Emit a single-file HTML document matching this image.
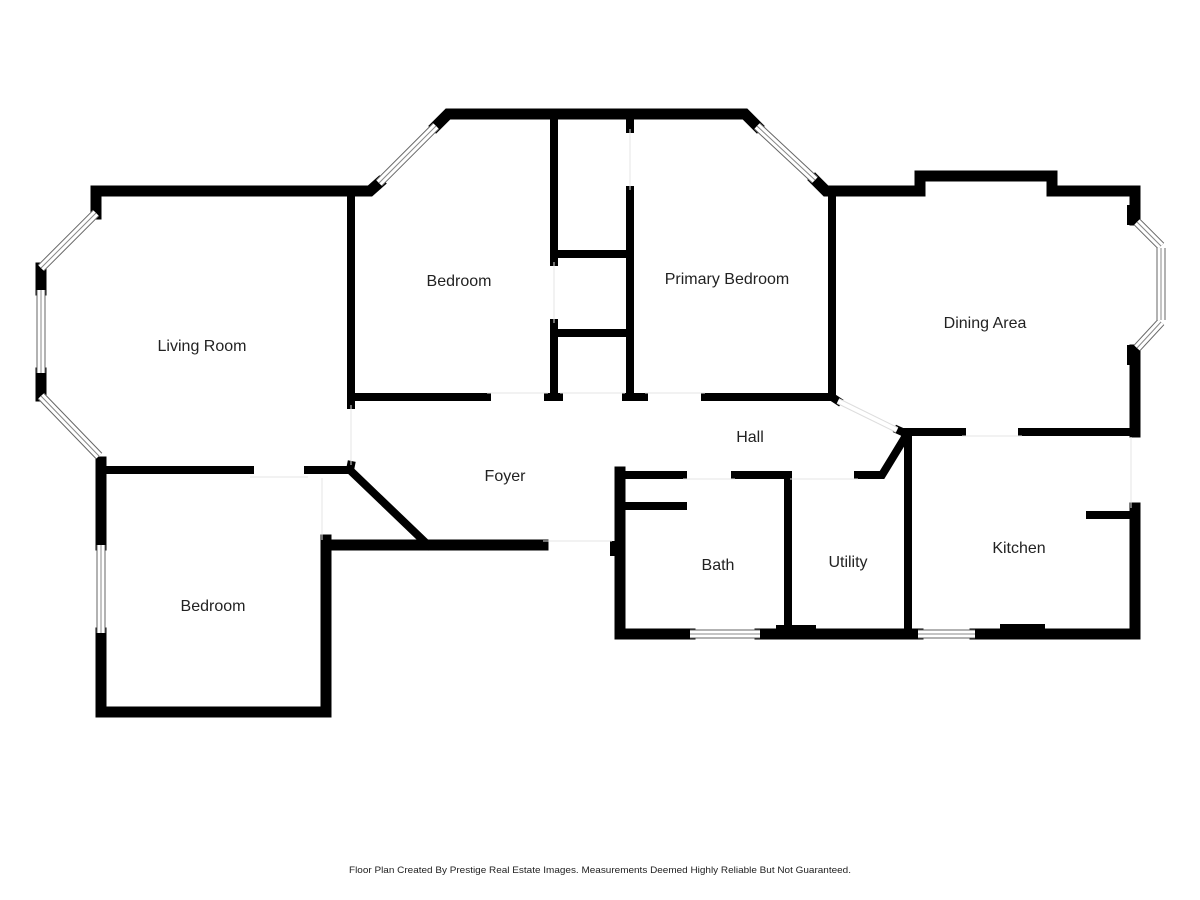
<!DOCTYPE html>
<html><head><meta charset="utf-8"><style>
html,body{margin:0;padding:0;background:#fff}
svg{display:block}
text{font-family:"Liberation Sans",sans-serif;font-size:16px;fill:#222;text-anchor:middle}
.w{stroke:#000;stroke-linecap:square;fill:none}
.win1{stroke:#666;stroke-width:9;stroke-linecap:butt}
.win2{stroke:#fff;stroke-width:7;stroke-linecap:butt}
.win3{stroke:#888;stroke-width:1}
</style></head><body>
<svg width="1200" height="900" viewBox="0 0 1200 900">
<g class="w" stroke-width="11">
<path d="M96 214 L96 191 L356 191"/>
<path d="M41 268 L41 290"/>
<path d="M41 373 L41 396"/>
<path d="M101 462 L101 545"/>
<path d="M101 633 L101 712 L326 712 L326 540"/>
<path d="M350 191 L370 191 L379 183"/>
<path d="M436 126 L448 114 L745 114 L757 126"/>
<path d="M815 180 L826 191 L920 191 L920 176 L1052 176 L1052 191 L1135 191 L1135 220"/>
<path d="M1135 350 L1135 432"/>
<path d="M1135 508 L1135 634 L975 634"/>
<path d="M918 634 L760 634"/>
<path d="M690 634 L620 634 L620 472"/>
<path d="M331 545 L543 545"/>
</g>
<g class="w" stroke-width="8">
<path d="M351 191 L351 405"/>
<path d="M351 397 L487 397"/>
<path d="M548 397 L559 397"/>
<path d="M626 397 L644 397"/>
<path d="M705 397 L832 397 L838 401"/>
<path d="M832 191 L832 397"/>
<path d="M554 120 L554 262 M554 323 L554 397"/>
<path d="M630 120 L630 129 M630 190 L630 397"/>
<path d="M554 254 L630 254 M554 333 L630 333"/>
<path d="M104 470 L250 470 M308 470 L350 470 L351 465"/>
<path d="M354 474 L428 545"/>
<path d="M905 432 L962 432 M1022 432 L1135 432"/>
<path d="M908 432 L908 632"/>
<path d="M898 430 L907 434 L882 475 L858 475"/>
<path d="M788 477 L788 632"/>
<path d="M624 475 L683 475 M735 475 L788 475"/>
<path d="M624 506 L683 506"/>
<path d="M1090 515 L1135 515"/>
<path d="M614 545 L614 552"/>
</g>
<rect x="776" y="625" width="40" height="10" fill="#000"/>
<rect x="1000" y="624" width="45" height="10" fill="#000"/>
<rect x="1127" y="205" width="10" height="20" fill="#000"/>
<rect x="1127" y="345" width="10" height="20" fill="#000"/>
<g>
<path class="win1" d="M96 213 L41 268 M41 290 L41 373 M41 396 L99 456 M101 545 L101 633 M379 183 L436 126 M757 126 L815 180 M1137 222 L1161 246 M1161 248 L1161 320 M1161 322 L1137 348 M690 634 L760 634 M918 634 L975 634"/>
<path class="win2" d="M96 213 L41 268 M41 290 L41 373 M41 396 L99 456 M101 545 L101 633 M379 183 L436 126 M757 126 L815 180 M1137 222 L1161 246 M1161 248 L1161 320 M1161 322 L1137 348 M690 634 L760 634 M918 634 L975 634"/>
<path class="win3" d="M96 213 L41 268 M41 290 L41 373 M41 396 L99 456 M101 545 L101 633 M379 183 L436 126 M757 126 L815 180 M1137 222 L1161 246 M1161 248 L1161 320 M1161 322 L1137 348 M690 634 L760 634 M918 634 L975 634"/>
<path d="M838 401 L897 430" stroke="#ddd" stroke-width="6"/>
<path d="M838 401 L897 430" stroke="#fff" stroke-width="4"/>
</g>
<g stroke="#e4e4e4" stroke-width="1">
<path d="M351 405 L351 465 M250 477 L308 477 M322 478 L322 540 M487 393 L548 393 M560 393 L625 393 M645 393 L705 393 M554 262 L554 323 M630 129 L630 190 M543 541 L612 541 M683 479 L735 479 M790 479 L858 479 M962 436 L1022 436 M1131 437 L1131 508"/>
</g>
<text x="202" y="351">Living Room</text>
<text x="459" y="286">Bedroom</text>
<text x="727" y="284">Primary Bedroom</text>
<text x="985" y="328">Dining Area</text>
<text x="750" y="442">Hall</text>
<text x="505" y="481">Foyer</text>
<text x="718" y="570">Bath</text>
<text x="848" y="567">Utility</text>
<text x="1019" y="553">Kitchen</text>
<text x="213" y="611">Bedroom</text>
<text x="600" y="873" style="font-size:9.5px" textLength="502" lengthAdjust="spacingAndGlyphs">Floor Plan Created By Prestige Real Estate Images. Measurements Deemed Highly Reliable But Not Guaranteed.</text>
</svg>
</body></html>
